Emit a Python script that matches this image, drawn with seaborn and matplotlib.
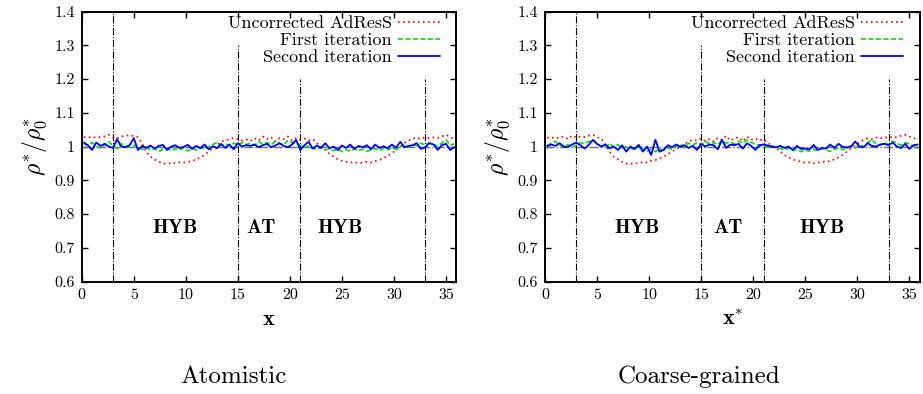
import numpy as np
import pandas as pd
import matplotlib
matplotlib.use("Agg")
import matplotlib.pyplot as plt
import seaborn as sns

# ---------------- data ----------------
x_grid = np.arange(0.2, 36.0, 0.4)   # bin centres

red_left = [1.028, 1.027, 1.029, 1.026, 1.028, 1.030, 1.035, 1.027, 1.024, 1.030,
            1.032, 1.034, 1.031, 1.028, 1.010, 0.985, 0.970, 0.962, 0.955, 0.950,
            0.948, 0.952, 0.951, 0.953, 0.952, 0.955, 0.957, 0.962, 0.968, 0.975,
            0.985, 0.995, 1.005, 1.015, 1.018, 1.022, 1.026, 1.022, 1.018, 1.021,
            1.016, 1.025, 1.018, 1.030, 1.022, 1.028, 1.015, 1.025, 1.022, 1.030,
            1.018, 1.026, 1.020, 1.024, 1.018, 1.022, 1.010, 1.000, 0.990, 0.978,
            0.970, 0.962, 0.958, 0.955, 0.952, 0.954, 0.951, 0.952, 0.955, 0.953,
            0.957, 0.960, 0.966, 0.972, 0.980, 0.990, 1.000, 1.010, 1.018, 1.024,
            1.026, 1.022, 1.028, 1.025, 1.027, 1.026, 1.030, 1.035, 1.028, 1.022]
green_left = [1.008, 1.003, 1.012, 1.000, 0.996, 1.005, 1.015, 1.002, 0.994, 1.008,
              1.002, 0.998, 1.004, 0.996, 0.992, 0.998, 0.990, 0.994, 0.985, 0.992,
              0.995, 0.988, 0.993, 0.990, 0.996, 0.987, 0.994, 0.990, 0.998, 0.992,
              1.000, 1.006, 1.012, 1.004, 1.008, 1.002, 1.010, 1.004, 1.012, 1.006,
              1.010, 1.004, 1.015, 1.008, 1.012, 1.005, 1.016, 1.010, 1.006, 1.018,
              1.012, 1.008, 1.004, 0.998, 1.002, 0.995, 0.992, 0.998, 0.990, 0.994,
              0.988, 0.992, 0.985, 0.990, 0.987, 0.993, 0.988, 0.992, 0.986, 0.990,
              0.994, 0.988, 0.995, 0.990, 0.998, 0.992, 1.000, 1.004, 0.998, 1.006,
              1.002, 1.010, 1.004, 1.012, 1.006, 1.002, 1.010, 1.020, 1.004, 1.008]
blue_left = [1.012, 1.004, 0.990, 1.012, 1.002, 1.008, 1.000, 0.996, 1.022, 1.000,
             0.998, 1.004, 1.025, 0.990, 1.002, 0.996, 1.003, 0.994, 1.002, 1.005,
             0.990, 1.000, 1.004, 0.996, 0.999, 1.005, 0.993, 1.002, 0.995, 1.006,
             0.992, 1.001, 0.995, 1.008, 0.996, 1.006, 0.992, 1.010, 1.000, 1.004,
             1.002, 1.006, 0.998, 1.004, 1.008, 0.998, 1.003, 1.010, 1.002, 0.998,
             1.006, 1.020, 0.990, 1.004, 1.014, 0.994, 1.003, 0.996, 1.010, 0.995,
             1.000, 0.990, 1.003, 0.996, 1.006, 0.993, 1.002, 0.998, 1.004, 0.992,
             1.006, 0.996, 1.001, 0.995, 1.006, 0.997, 1.014, 0.998, 1.002, 1.004,
             1.010, 0.993, 0.998, 1.010, 1.006, 0.990, 1.004, 1.008, 0.990, 0.998]

red_right = [1.026, 1.028, 1.024, 1.027, 1.030, 1.022, 1.033, 1.026, 1.030, 1.028,
             1.032, 1.035, 1.028, 1.024, 1.005, 0.985, 0.970, 0.962, 0.955, 0.950,
             0.948, 0.951, 0.950, 0.954, 0.953, 0.958, 0.960, 0.965, 0.970, 0.978,
             0.985, 0.993, 1.000, 1.008, 1.015, 1.020, 1.018, 1.024, 1.016, 1.022,
             1.015, 1.026, 1.020, 1.032, 1.018, 1.024, 1.028, 1.016, 1.030, 1.020,
             1.024, 1.018, 1.022, 1.010, 1.004, 0.995, 0.985, 0.975, 0.968, 0.962,
             0.958, 0.955, 0.952, 0.953, 0.950, 0.952, 0.955, 0.954, 0.958, 0.962,
             0.968, 0.975, 0.985, 0.995, 1.004, 1.012, 1.020, 1.025, 1.022, 1.027,
             1.024, 1.028, 1.026, 1.030, 1.027, 1.032, 1.035, 1.030, 1.025, 1.022]
green_right = [1.002, 1.010, 1.016, 1.004, 1.000, 1.006, 0.998, 1.004, 1.012, 1.008,
               1.015, 1.018, 1.006, 1.002, 0.996, 1.010, 0.998, 1.006, 0.994, 1.000,
               0.996, 0.990, 1.004, 0.994, 0.987, 0.992, 0.985, 0.993, 0.990, 0.996,
               0.992, 1.000, 1.006, 0.998, 1.010, 1.004, 1.012, 1.006, 1.016, 1.008,
               1.012, 1.006, 1.018, 1.010, 1.014, 1.008, 1.016, 1.010, 1.020, 1.012,
               1.008, 1.004, 1.000, 0.998, 1.002, 0.996, 0.994, 0.990, 0.996, 0.988,
               0.992, 0.985, 0.990, 0.986, 0.992, 0.988, 0.994, 0.990, 0.986, 0.992,
               0.996, 0.990, 0.998, 1.002, 0.996, 1.004, 1.000, 1.012, 1.020, 1.008,
               1.004, 1.012, 1.006, 1.016, 1.010, 1.004, 1.012, 1.008, 1.002, 1.006]
blue_right = [1.002, 1.006, 1.002, 1.010, 1.000, 0.999, 1.006, 1.012, 1.004, 0.994,
              1.005, 1.020, 1.008, 1.000, 1.006, 0.995, 1.000, 0.990, 1.004, 0.985,
              1.000, 0.993, 1.005, 0.985, 1.000, 0.975, 1.020, 0.985, 0.990, 1.004,
              0.998, 1.006, 1.000, 1.004, 0.996, 1.002, 0.990, 1.008, 1.000, 1.006,
              1.004, 0.992, 1.020, 0.996, 1.006, 1.004, 1.008, 0.994, 1.010, 1.002,
              0.990, 1.004, 1.006, 1.003, 1.000, 0.998, 1.002, 0.996, 1.000, 0.990,
              1.002, 0.993, 0.994, 0.992, 1.005, 0.990, 0.996, 0.994, 1.006, 0.996,
              1.008, 0.999, 0.997, 1.000, 1.015, 1.000, 0.998, 1.010, 1.002, 1.000,
              1.006, 1.008, 1.004, 1.012, 1.000, 0.996, 1.008, 0.993, 1.004, 1.006]

series_names = ["Uncorrected AdResS", "First iteration", "Second iteration"]
boundaries = [3, 15, 21, 33]
boundary_tops = [1.4, 1.3, 1.2, 1.2]
region_labels = ["HYB", "AT", "HYB"]
label_x_left = [9.0, 17.2, 24.8]
label_x_right = [8.8, 17.6, 26.6]
label_y = 0.76
xticks = [0, 5, 10, 15, 20, 25, 30, 35]
yticks = [0.6, 0.7, 0.8, 0.9, 1.0, 1.1, 1.2, 1.3, 1.4]
ytick_labels = ["0.6", "0.7", "0.8", "0.9", "1", "1.1", "1.2", "1.3", "1.4"]
panel_xlabels = [r"$\mathbf{x}$", r"$\mathbf{x}^{*}$"]
panel_titles = ["Atomistic", "Coarse-grained"]

# ---------------- style ----------------
sns.set_theme(style="white")
plt.rcParams["font.family"] = ["cmr10", "DejaVu Serif"]
plt.rcParams["mathtext.fontset"] = "cm"
plt.rcParams["axes.unicode_minus"] = False
plt.rcParams["axes.edgecolor"] = "black"
plt.rcParams["axes.linewidth"] = 1.4
plt.rcParams["text.color"] = "black"
plt.rcParams["axes.labelcolor"] = "black"
plt.rcParams["xtick.color"] = "black"
plt.rcParams["ytick.color"] = "black"

colors = ["#ff0000", "#00e000", "#0000ff"]
styles = [(0, (1, 2)), (0, (3, 1.5)), "-"]
widths = [1.2, 1.2, 1.3]

fig = plt.figure(figsize=(9.23, 3.94), dpi=100)
ax_l = fig.add_axes([0.0885, 0.2855, 0.406, 0.685])
ax_r = fig.add_axes([0.5905, 0.2855, 0.406, 0.685])

panels = [
    (ax_l, [red_left, green_left, blue_left], label_x_left, panel_xlabels[0], panel_titles[0], 0.2525),
    (ax_r, [red_right, green_right, blue_right], label_x_right, panel_xlabels[1], panel_titles[1], 0.757),
]

for ax, ys, lx, xlab, title, tx in panels:
    ax.axhline(1.0, color="#707070", lw=1.0, ls="-.", zorder=1)
    for b, t in zip(boundaries, boundary_tops):
        ax.vlines(b, 0.6, t, colors="black", linestyles="-.", lw=0.8, zorder=1)
    for name, y, c, s, w in zip(series_names, ys, colors, styles, widths):
        df = pd.DataFrame({"x": x_grid, "y": y})
        sns.lineplot(data=df, x="x", y="y", ax=ax, color=c, linestyle=s,
                     lw=w, label=name, zorder=3)
    for txt, xx in zip(region_labels, lx):
        ax.text(xx, label_y, txt, ha="center", va="center", fontsize=14.5,
                family="cmb10", color="black")
    ax.set_xlim(0, 36)
    ax.set_ylim(0.6, 1.4)
    ax.set_xticks(xticks)
    ax.set_xticklabels([str(v) for v in xticks], fontsize=11.5)
    ax.set_yticks(yticks)
    ax.set_yticklabels(ytick_labels, fontsize=11.5)
    ax.tick_params(direction="in", length=4, width=1.0, top=True, right=True,
                   bottom=True, left=True, pad=5, colors="black")
    ax.set_xlabel(xlab, fontsize=16, labelpad=5)
    ax.set_ylabel(r"$\rho^{*}/\rho_{0}^{*}$", fontsize=17, labelpad=4)
    leg = ax.legend(loc="upper right", bbox_to_anchor=(0.955, 0.985),
                    frameon=False, markerfirst=False,
                    fontsize=13, handlelength=2.3, handletextpad=0.35,
                    labelspacing=0.08, borderaxespad=0.0, borderpad=0.0)
    fig.text(tx, 0.043, title, ha="center", va="center", fontsize=18)
    for sp in ax.spines.values():
        sp.set_visible(True)
        sp.set_color("black")

fig.savefig("out.png", dpi=100)
